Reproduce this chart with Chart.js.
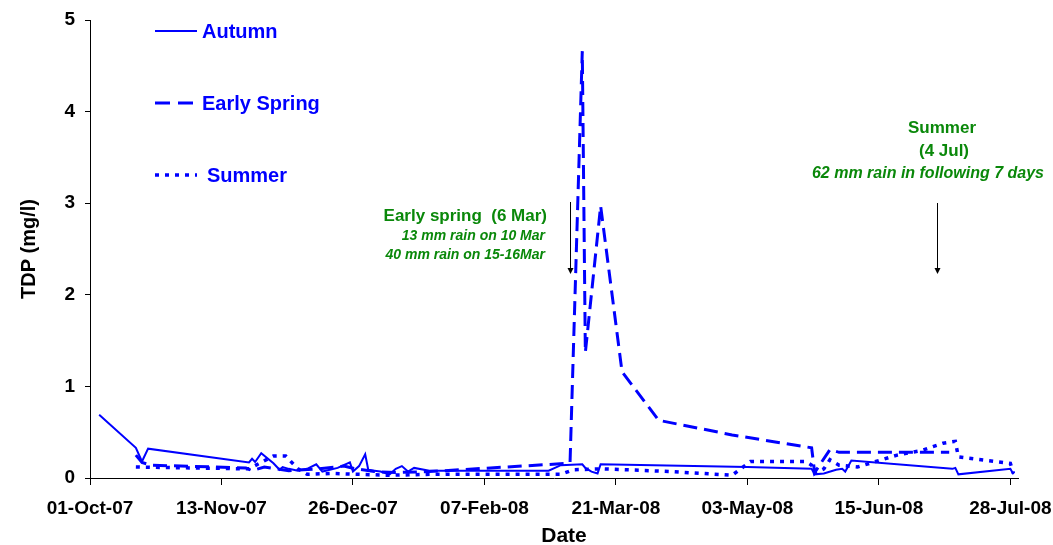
<!DOCTYPE html>
<html>
<head>
<meta charset="utf-8">
<style>
  html, body { margin: 0; padding: 0; background: #ffffff; }
  #wrap { width: 1053px; height: 545px; position: relative; }
</style>
<script src="https://cdn.jsdelivr.net/npm/chart.js@4.4.1/dist/chart.umd.min.js"></script>
</head>
<body>
<div id="wrap"><canvas id="c" width="1053" height="545"></canvas></div>
<script>
// ---------------- data ----------------
const startDate = '2007-10-01';
const xTickDates = ['2007-10-01','2007-11-13','2007-12-26','2008-02-07','2008-03-21','2008-05-03','2008-06-15','2008-07-28'];
const xTickLabels = ['01-Oct-07','13-Nov-07','26-Dec-07','07-Feb-08','21-Mar-08','03-May-08','15-Jun-08','28-Jul-08'];
const xAxisEndDay = 303.5;
const yTicks = [0, 1, 2, 3, 4, 5];
const seriesNames = ['Autumn', 'Early Spring', 'Summer'];

const autumnDates = ['2007-10-04','2007-10-16','2007-10-18','2007-10-20','2007-11-22','2007-11-23','2007-11-24','2007-11-26',
  '2007-11-30','2007-12-02','2007-12-03','2007-12-05','2007-12-08','2007-12-11','2007-12-14','2007-12-16','2007-12-21',
  '2007-12-25','2007-12-26','2007-12-28','2007-12-30','2007-12-31','2008-01-02','2008-01-04','2008-01-07','2008-01-09',
  '2008-01-11','2008-01-13','2008-01-15','2008-01-20','2008-02-28','2008-03-03','2008-03-10','2008-03-11','2008-03-13',
  '2008-03-15','2008-03-16','2008-05-03','2008-05-24','2008-05-25','2008-05-28','2008-06-01','2008-06-03','2008-06-04',
  '2008-06-06','2008-07-09','2008-07-10','2008-07-11','2008-07-28','2008-07-29'];
const autumnTDP = [0.69,0.33,0.18,0.32,0.17,0.21,0.175,0.27,
  0.16,0.09,0.12,0.10,0.08,0.10,0.15,0.07,0.11,
  0.17,0.07,0.13,0.26,0.09,0.08,0.07,0.04,0.10,
  0.13,0.07,0.11,0.08,0.08,0.14,0.15,0.11,0.07,
  0.05,0.15,0.12,0.10,0.04,0.05,0.09,0.10,0.07,
  0.19,0.10,0.11,0.04,0.10,0.04];

const springDates = ['2007-10-16','2007-10-18','2007-10-21','2007-11-21','2007-11-23','2007-11-27','2007-12-01','2007-12-05',
  '2007-12-15','2007-12-23','2007-12-27','2008-01-02','2008-01-09','2008-01-20','2008-02-09','2008-03-05','2008-03-06',
  '2008-03-10','2008-03-11','2008-03-16','2008-03-23','2008-04-04','2008-04-28','2008-05-24','2008-05-25','2008-05-30',
  '2008-06-02','2008-07-08'];
const springTDP = [0.25,0.17,0.14,0.11,0.08,0.12,0.10,0.08,
  0.10,0.13,0.10,0.07,0.06,0.07,0.11,0.16,0.17,
  4.66,1.37,2.97,1.16,0.63,0.47,0.33,0.06,0.31,
  0.28,0.28];

const summerDates = ['2007-10-16','2007-11-22','2007-11-30','2007-12-04','2007-12-08','2007-12-11','2007-12-19','2007-12-28',
  '2008-01-07','2008-01-20','2008-02-27','2008-03-03','2008-03-07','2008-03-17','2008-04-08','2008-04-28','2008-05-04',
  '2008-05-22','2008-05-24','2008-05-25','2008-05-28','2008-05-30','2008-06-02','2008-06-08','2008-06-21','2008-06-29',
  '2008-07-06','2008-07-10','2008-07-11','2008-07-28','2008-07-29'];
const summerTDP = [0.12,0.10,0.24,0.24,0.10,0.04,0.05,0.04,
  0.03,0.04,0.04,0.04,0.09,0.10,0.07,0.03,0.18,
  0.18,0.14,0.05,0.10,0.20,0.14,0.12,0.25,0.30,
  0.38,0.40,0.23,0.16,0.05];

const eventDates = ['2008-03-06', '2008-07-04'];

// ---------------- helpers ----------------
const FONT = '"Liberation Sans", Arial, Helvetica, sans-serif';
const BLUE = '#0000FF';
const GREEN = '#0A880A';
const DAY = 86400000;
const t0 = Date.parse(startDate + 'T00:00:00Z');
const toDay = s => (Date.parse(s + 'T00:00:00Z') - t0) / DAY;
const pts = (dates, vals) => dates.map((d, i) => ({ x: toDay(d), y: vals[i] }));

const styles = [
  { width: 2, dash: [] },
  { width: 3, dash: [14, 7] },
  { width: 3.5, dash: [4, 6] }
];

Chart.defaults.font.family = FONT;

const extras = {
  id: 'extras',
  afterDraw(chart) {
    const ctx = chart.ctx;
    const xs = chart.scales.x;
    ctx.save();
    // legend
    const legY = [31, 103, 175];
    const legTextX = [202, 202, 207];
    seriesNames.forEach((name, i) => {
      ctx.strokeStyle = BLUE;
      ctx.lineWidth = styles[i].width;
      ctx.setLineDash(i === 1 ? [15, 8] : styles[i].dash);
      ctx.lineCap = 'butt';
      ctx.beginPath();
      ctx.moveTo(155, legY[i]);
      ctx.lineTo(197, legY[i]);
      ctx.stroke();
      ctx.setLineDash([]);
      ctx.fillStyle = BLUE;
      ctx.font = 'bold 20px ' + FONT;
      ctx.textAlign = 'left';
      ctx.textBaseline = 'middle';
      ctx.fillText(name, legTextX[i], legY[i] + 1);
    });

    // annotations
    ctx.fillStyle = GREEN;
    ctx.textBaseline = 'alphabetic';
    ctx.textAlign = 'right';
    ctx.font = 'bold 17px ' + FONT;
    ctx.fillText('Early spring  (6 Mar)', 547, 221);
    ctx.font = 'italic bold 14px ' + FONT;
    ctx.fillText('13 mm rain on 10 Mar', 545, 240);
    ctx.fillText('40 mm rain on 15-16Mar', 545, 259);

    ctx.textAlign = 'center';
    ctx.font = 'bold 17px ' + FONT;
    ctx.fillText('Summer', 942, 133);
    ctx.fillText('(4 Jul)', 944, 156);
    ctx.textAlign = 'right';
    ctx.font = 'italic bold 16px ' + FONT;
    ctx.fillText('62 mm rain in following 7 days', 1044, 178);

    // arrows
    const arrows = [[xs.getPixelForValue(toDay(eventDates[0])), 202, 274],
                    [xs.getPixelForValue(toDay(eventDates[1])), 203, 274]];
    ctx.strokeStyle = '#000';
    ctx.fillStyle = '#000';
    ctx.lineWidth = 1;
    arrows.forEach(([x, y1, y2]) => {
      const xx = Math.round(x) + 0.5;
      ctx.beginPath();
      ctx.moveTo(xx, y1);
      ctx.lineTo(xx, y2 - 5);
      ctx.stroke();
      ctx.beginPath();
      ctx.moveTo(xx - 3, y2 - 6);
      ctx.lineTo(xx + 3, y2 - 6);
      ctx.lineTo(xx, y2);
      ctx.closePath();
      ctx.fill();
    });

    // x axis title
    ctx.fillStyle = '#000';
    ctx.font = 'bold 21px ' + FONT;
    ctx.textAlign = 'center';
    ctx.textBaseline = 'middle';
    ctx.fillText('Date', 564, 536);
    ctx.restore();
  }
};

const datasets = [
  [autumnDates, autumnTDP],
  [springDates, springTDP],
  [summerDates, summerTDP]
].map(([d, v], i) => ({
  label: seriesNames[i],
  data: pts(d, v),
  borderColor: BLUE,
  backgroundColor: BLUE,
  borderWidth: styles[i].width,
  borderDash: styles[i].dash,
  pointRadius: 0,
  tension: 0,
  fill: false
}));

new Chart(document.getElementById('c'), {
  type: 'line',
  data: { datasets },
  options: {
    responsive: false,
    animation: false,
    devicePixelRatio: 1,
    layout: { padding: { left: 0, top: 20, right: 35, bottom: 0 } },
    plugins: { legend: { display: false }, tooltip: { enabled: false } },
    scales: {
      x: {
        type: 'linear',
        min: 0,
        max: xAxisEndDay,
        afterBuildTicks: s => { s.ticks = xTickDates.map(d => ({ value: toDay(d) })); },
        afterFit: s => { s.height = 67; s.paddingRight = 0; s.paddingLeft = 0; },
        ticks: {
          autoSkip: false, maxRotation: 0, minRotation: 0,
          color: '#000', padding: 12,
          font: { size: 19, weight: 'bold' },
          callback: (v) => {
            const i = xTickDates.findIndex(d => toDay(d) === v);
            return i >= 0 ? xTickLabels[i] : '';
          }
        },
        grid: { drawOnChartArea: false, drawTicks: true, tickLength: 7, color: '#000', lineWidth: 1 },
        border: { display: true, color: '#000', width: 1 }
      },
      y: {
        min: yTicks[0],
        max: yTicks[yTicks.length - 1],
        afterBuildTicks: s => { s.ticks = yTicks.map(v => ({ value: v })); },
        afterFit: s => { s.width = 90; s.paddingTop = 0; s.paddingBottom = 0; },
        ticks: { color: '#000', padding: 10, font: { size: 19, weight: 'bold' } },
        grid: { drawOnChartArea: false, drawTicks: true, tickLength: 5, color: '#000', lineWidth: 1 },
        border: { display: true, color: '#000', width: 1 },
        title: {
          display: true, text: 'TDP (mg/l)', color: '#000',
          font: { size: 20, weight: 'bold' }, padding: { top: 17, bottom: 0 }
        }
      }
    }
  },
  plugins: [extras]
});
</script>
</body>
</html>
